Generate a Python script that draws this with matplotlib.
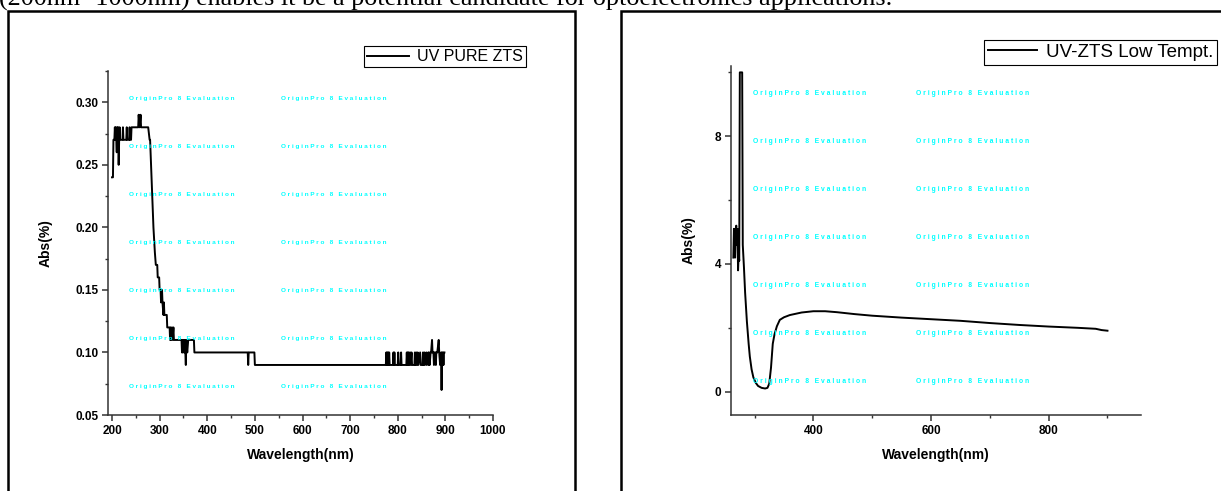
import matplotlib.pyplot as plt
from matplotlib.patches import Rectangle
from matplotlib.ticker import MultipleLocator

plt.rcParams['font.family'] = ['Liberation Sans', 'DejaVu Sans']

# left panel - UV PURE ZTS (absorbance read in 0.01 steps)
pure_wl = [200, 202, 203, 205, 206, 207, 208, 210, 211, 212, 213, 214, 215, 216, 217, 222,
           223, 224, 230, 231, 232, 236, 237, 238, 240, 241, 255, 256, 258, 260, 261, 276,
           279, 280, 284, 287, 290, 292, 295, 296, 299, 300, 302, 303, 305, 306, 308, 309,
           310, 315, 316, 321, 322, 323, 324, 326, 327, 329, 330, 346, 347, 348, 349, 351,
           352, 353, 355, 356, 358, 360, 372, 373, 485, 486, 487, 499, 500, 775, 776, 777, 778,
           779, 780, 781, 782, 783, 790, 791, 792, 793, 794, 800, 801, 802, 806, 807, 808,
           818, 819, 820, 821, 822, 823, 824, 826, 827, 829, 830, 835, 836, 837, 839, 840,
           842, 843, 847, 848, 852, 853, 854, 856, 857, 860, 861, 864, 865, 866, 867, 869,
           870, 872, 873, 875, 876, 877, 879, 880, 881, 883, 886, 887, 889, 891, 892, 893,
           894, 895, 896, 897, 898]
pure_abs = [0.24, 0.24, 0.27, 0.27, 0.28, 0.27, 0.28, 0.26, 0.28, 0.27, 0.28, 0.25, 0.27, 0.28, 0.27, 0.27,
            0.28, 0.27, 0.27, 0.28, 0.27, 0.27, 0.28, 0.27, 0.27, 0.28, 0.28, 0.29, 0.28, 0.29, 0.28, 0.28,
            0.27, 0.27, 0.23, 0.20, 0.18, 0.17, 0.17, 0.16, 0.16, 0.15, 0.15, 0.14, 0.15, 0.14, 0.13, 0.14,
            0.13, 0.13, 0.12, 0.12, 0.11, 0.12, 0.11, 0.12, 0.11, 0.12, 0.11, 0.11, 0.10, 0.11, 0.10, 0.11,
            0.10, 0.11, 0.09, 0.11, 0.10, 0.11, 0.11, 0.10, 0.10, 0.09, 0.10, 0.10, 0.09, 0.09, 0.10, 0.09, 0.10,
            0.09, 0.10, 0.09, 0.10, 0.09, 0.09, 0.10, 0.09, 0.10, 0.09, 0.09, 0.10, 0.09, 0.09, 0.10, 0.09,
            0.09, 0.10, 0.09, 0.10, 0.09, 0.10, 0.09, 0.10, 0.09, 0.10, 0.09, 0.09, 0.10, 0.09, 0.10, 0.09,
            0.10, 0.09, 0.10, 0.09, 0.09, 0.10, 0.09, 0.10, 0.09, 0.10, 0.09, 0.10, 0.09, 0.10, 0.09, 0.10,
            0.10, 0.11, 0.10, 0.10, 0.09, 0.10, 0.10, 0.09, 0.10, 0.10, 0.11, 0.10, 0.09, 0.10, 0.07, 0.10,
            0.09, 0.10, 0.09, 0.10, 0.10]

# right panel - UV-ZTS Low Tempt.
low_wl = [264, 265, 266, 267, 268, 269, 270, 271, 272, 273, 274, 275, 279, 280, 282, 284, 287,
          290, 292, 295, 298, 302, 306, 312, 318, 322, 325, 328, 331, 334, 338, 343, 350, 360,
          380, 400, 420, 440, 470, 500, 550, 600, 650, 700, 750, 800, 850, 880, 890, 900]
low_abs = [4.2, 5.1, 4.4, 4.2, 5.1, 5.2, 4.6, 5.1, 3.8, 4.3, 4.1, 10.0, 10.0, 4.6, 3.9, 3.1, 2.2,
           1.5, 1.1, 0.7, 0.45, 0.28, 0.18, 0.12, 0.10, 0.12, 0.25, 0.75, 1.5, 1.8, 2.05, 2.25, 2.33, 2.4,
           2.48, 2.52, 2.52, 2.49, 2.43, 2.38, 2.32, 2.27, 2.22, 2.15, 2.09, 2.04, 2.0, 1.97, 1.93, 1.91]

W, H = 1221, 491
fig = plt.figure(figsize=(W / 100, H / 100), dpi=100)

# cut-off line of the document above the figure
fig.text(-1 / W, 1 - 6 / H,
         "(200nm -1000nm) enables it be a potential candidate for optoelectronics applications.",
         family='Liberation Serif', fontsize=18.8, va='baseline', ha='left')

# frames around the two pasted figures
fig.add_artist(Rectangle((8 / W, -0.1), 567 / W, 1.1 - 11 / H, transform=fig.transFigure,
                         fill=False, lw=1.8, ec='black'))
fig.add_artist(Rectangle((621 / W, -0.1), 0.6, 1.1 - 11 / H, transform=fig.transFigure,
                         fill=False, lw=1.8, ec='black'))


def style(ax):
    ax.spines['top'].set_visible(False)
    ax.spines['right'].set_visible(False)
    for s in ['left', 'bottom']:
        ax.spines[s].set_linewidth(1.1)
        ax.spines[s].set_color('#333333')
    ax.tick_params(which='major', direction='out', length=4, width=1.1, color='#333333',
                   labelsize=8.5, pad=3)
    ax.tick_params(which='minor', direction='out', length=2.5, width=1.0, color='#333333')
    for lbl in ax.get_xticklabels() + ax.get_yticklabels():
        lbl.set_fontweight('bold')


def watermark(x0s, y0, size):
    for xx in x0s:
        for k in range(7):
            fig.text(xx / W, 1 - (y0 + 48 * k) / H, "O r i g i n P r o   8   E v a l u a t i o n",
                     color='#00ffff', fontsize=size, fontweight='bold', va='center', ha='left')


# left plot
ax1 = fig.add_axes([108 / W, 1 - 415 / H, 385 / W, 344 / H])
ax1.plot(pure_wl, pure_abs, color='black', lw=1.4, label='UV PURE ZTS')
ax1.set_xlim(191.6, 1000)
ax1.set_ylim(0.05, 0.325)
ax1.xaxis.set_major_locator(MultipleLocator(100))
ax1.xaxis.set_minor_locator(MultipleLocator(50))
ax1.yaxis.set_major_locator(MultipleLocator(0.05))
ax1.yaxis.set_minor_locator(MultipleLocator(0.025))
ax1.yaxis.set_major_formatter(plt.FormatStrFormatter('%.2f'))
ax1.set_xlabel('Wavelength(nm)', fontsize=10, fontweight='bold', labelpad=8)
ax1.set_ylabel('Abs(%)', fontsize=10, fontweight='bold', labelpad=16)
style(ax1)
leg1 = ax1.legend(loc='upper right', bbox_to_anchor=(526 / W, 1 - 46 / H), bbox_transform=fig.transFigure,
                  fancybox=False, edgecolor='black', framealpha=1, fontsize=11.5, handlelength=2.6,
                  handletextpad=0.5, borderpad=0.2, borderaxespad=0)
leg1.get_frame().set_linewidth(0.8)

# right plot
ax2 = fig.add_axes([731 / W, 1 - 415 / H, 410 / W, 349 / H])
ax2.plot(low_wl, low_abs, color='black', lw=1.4, label='UV-ZTS Low Tempt.')
ax2.set_xlim(260, 957)
ax2.set_ylim(-0.73, 10.2)
ax2.xaxis.set_major_locator(MultipleLocator(200))
ax2.xaxis.set_minor_locator(MultipleLocator(100))
ax2.yaxis.set_major_locator(MultipleLocator(4))
ax2.yaxis.set_minor_locator(MultipleLocator(2))
ax2.set_xlabel('Wavelength(nm)', fontsize=10, fontweight='bold', labelpad=8)
ax2.set_ylabel('Abs(%)', fontsize=10, fontweight='bold', labelpad=14)
style(ax2)
leg2 = ax2.legend(loc='upper right', bbox_to_anchor=(1217 / W, 1 - 40 / H), bbox_transform=fig.transFigure,
                  fancybox=False, edgecolor='black', framealpha=1, fontsize=13.5, handlelength=2.6,
                  handletextpad=0.5, borderpad=0.2, borderaxespad=0)
leg2.get_frame().set_linewidth(0.8)

watermark([129, 281], 98.7, 4.6)
watermark([753, 916], 93.7, 4.9)

fig.savefig('out.png', dpi=100)
